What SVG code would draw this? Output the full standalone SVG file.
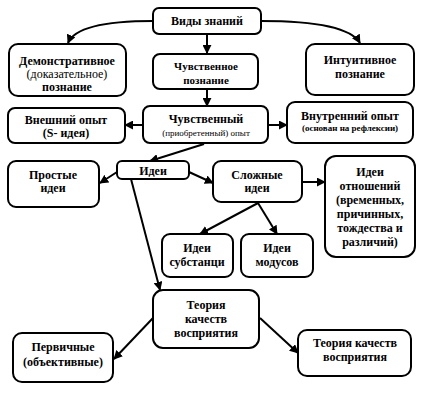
<svg xmlns="http://www.w3.org/2000/svg" width="428" height="415" viewBox="0 0 428 415">
<defs>
<marker id="ah" viewBox="0 0 10 10" refX="9" refY="5" markerWidth="4.5" markerHeight="4.5" orient="auto" markerUnits="strokeWidth">
<path d="M0,0 L10,5 L0,10 z" fill="#000"/>
</marker>
<style>
.b{fill:#fff;stroke:#000;stroke-width:2}
text{font-family:'Liberation Serif','DejaVu Serif',serif;font-size:12px;font-weight:bold;text-anchor:middle;fill:#000}
.n{font-weight:normal}
.s{font-size:9px}
.c{fill:none;stroke:#000;stroke-width:2;marker-end:url(#ah)}
</style>
</defs>
<rect width="428" height="415" fill="#fff"/>
<g id="connectors">
<path class="c" d="M153,21 C110,21 75,26 68,43"/>
<path class="c" d="M261,21 C310,21 350,26 360,43"/>
<path class="c" d="M207,34 L207,53"/>
<path class="c" d="M207,89 L207,106"/>
<path class="c" d="M143,125 L125,125"/>
<path class="c" d="M268,125 L287,125"/>
<path class="c" d="M204,144 L150,161"/>
<path class="c" d="M117,172 L100,183"/>
<path class="c" d="M189,172 L213,183"/>
<path class="c" d="M302,182 L325,182"/>
<path class="c" d="M258,203 L200,234"/>
<path class="c" d="M258,203 L277,234"/>
<path class="c" d="M131,179 L160,290"/>
<path class="c" d="M153,318 L114,359"/>
<path class="c" d="M260,318 L298,353"/>
</g>
<g id="vidy"><rect class="b" x="153" y="8" width="108" height="26" rx="6"/><text x="207" y="25">Виды знаний</text></g>
<g id="demo"><rect class="b" x="9" y="44" width="117" height="52" rx="9"/><text x="67" y="65">Демонстративное</text><text class="n" x="67" y="78">(доказательное)</text><text x="67" y="91">познание</text></g>
<g id="chuv"><rect class="b" x="153" y="54" width="105" height="35" rx="7"/><text x="206" y="70" style="font-size:11px">Чувственное</text><text x="206" y="84" style="font-size:11px">познание</text></g>
<g id="intu"><rect class="b" x="306" y="44" width="108" height="51" rx="9"/><text x="360" y="64">Интуитивное</text><text x="360" y="78">познание</text></g>
<g id="vnesh"><rect class="b" x="8" y="108" width="117" height="35" rx="7"/><text x="66" y="124">Внешний опыт</text><text x="66" y="137">(S- идея)</text></g>
<g id="chopyt"><rect class="b" x="143" y="106" width="125" height="37" rx="7"/><text x="206" y="123">Чувственный</text><text class="n s" x="206" y="136">(приобретенный) опыт</text></g>
<g id="vnutr"><rect class="b" x="287" y="102" width="126" height="41" rx="8"/><text x="350" y="120">Внутренний опыт</text><text class="s" x="350" y="131">(основан на рефлексии)</text></g>
<g id="prost"><rect class="b" x="8" y="161" width="91" height="46" rx="8"/><text x="53" y="179">Простые</text><text x="53" y="192">идеи</text></g>
<g id="idei"><rect class="b" x="117" y="161" width="72" height="18" rx="5"/><text x="153" y="175">Идеи</text></g>
<g id="slozh"><rect class="b" x="213" y="161" width="89" height="41" rx="8"/><text x="257" y="179">Сложные</text><text x="257" y="192">идеи</text></g>
<g id="otnosh"><rect class="b" x="325" y="156" width="90" height="101" rx="11"/><text x="370" y="176">Идеи</text><text x="370" y="190">отношений</text><text x="370" y="204">(временных,</text><text x="370" y="218">причинных,</text><text x="370" y="232">тождества и</text><text x="370" y="246">различий)</text></g>
<g id="subst"><rect class="b" x="162" y="234" width="71" height="43" rx="8"/><text x="197" y="252">Идеи</text><text x="197" y="266">субстанци</text></g>
<g id="modus"><rect class="b" x="241" y="234" width="72" height="43" rx="8"/><text x="277" y="252">Идеи</text><text x="277" y="266">модусов</text></g>
<g id="teoria"><rect class="b" x="153" y="290" width="106" height="58" rx="10"/><text x="206" y="309">Теория</text><text x="206" y="323">качеств</text><text x="206" y="337">восприятия</text></g>
<g id="perv"><rect class="b" x="13" y="333" width="100" height="49" rx="9"/><text x="63" y="351">Первичные</text><text x="63" y="366">(объективные)</text></g>
<g id="teoria2"><rect class="b" x="298" y="330" width="113" height="46" rx="9"/><text x="355" y="347">Теория качеств</text><text x="355" y="361">восприятия</text></g>
</svg>
